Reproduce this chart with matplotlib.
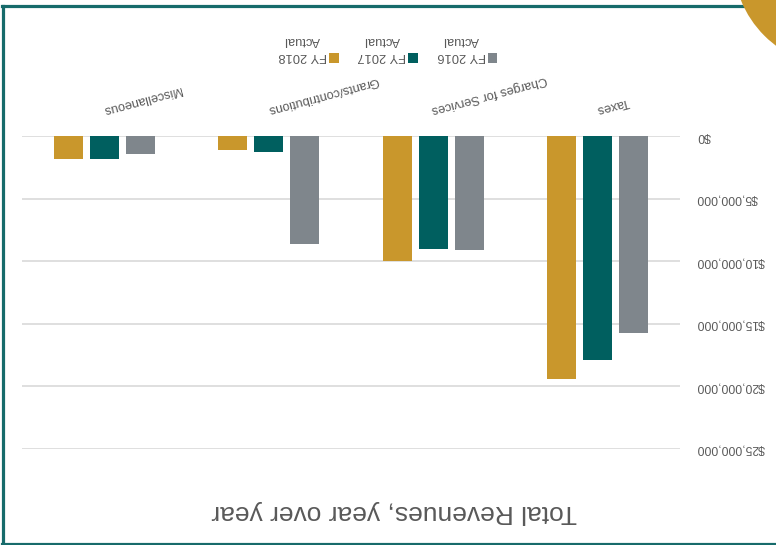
import matplotlib
matplotlib.use("Agg")
import matplotlib.pyplot as plt
import numpy as np
from matplotlib.patches import Rectangle, Circle
from matplotlib.lines import Line2D

# data (the whole picture is turned upside down)
categories = ["Taxes", "Charges for Services", "Grants/contributions", "Miscellaneous"]
fy2016 = [15.7e6, 9.1e6, 8.6e6, 1.4e6]
fy2017 = [17.9e6, 9.0e6, 1.25e6, 1.8e6]
fy2018 = [19.4e6, 9.95e6, 1.1e6, 1.8e6]
series_labels = ["FY 2016\nActual", "FY 2017\nActual", "FY 2018\nActual"]
ytick_values = [0, 5e6, 10e6, 15e6, 20e6, 25e6]
ytick_labels = ["$0", "$5,000,000", "$10,000,000", "$15,000,000", "$20,000,000", "$25,000,000"]
title = "Total Revenues, year over year"

colors = ["#7F868C", "#005F5F", "#C9972C"]
txt_color = "#595959"
sans = ["Liberation Sans", "DejaVu Sans"]

W, H = 776, 545
fig = plt.figure(figsize=(W / 100, H / 100), dpi=100)
fig.patch.set_facecolor("white")

# axes placed in pixel terms of the picture (y measured from top)
ax_left, ax_right, ax_top, ax_bot = 22, 680, 136, 449
ax = fig.add_axes([ax_left / W, (H - ax_bot) / H, (ax_right - ax_left) / W, (ax_bot - ax_top) / H])

x = np.arange(len(categories))
width = 0.176
step = 0.218
for i, vals in enumerate([fy2016, fy2017, fy2018]):
    ax.bar(x + (i - 1) * step, vals, width, color=colors[i], zorder=3)

ax.set_xlim(3.5, -0.5)
ax.set_ylim(25e6, 0)
ax.set_axisbelow(True)
ax.grid(axis="y", color="#D9D9D9", lw=1.2)
ax.grid(axis="x", visible=False)
for s in ax.spines.values():
    s.set_visible(False)

ax.yaxis.tick_right()
ax.set_yticks(ytick_values, ytick_labels, rotation=180, ha="left", va="center",
              family=sans, fontsize=8.8, color=txt_color)
ax.tick_params(axis="y", length=0, pad=12)

ax.xaxis.tick_top()
ax.set_xticks(x, categories, rotation=195, rotation_mode="anchor", ha="right", va="top",
              family=sans, fontsize=9.2, color=txt_color)
ax.tick_params(axis="x", length=0, pad=15)

# legend drawn by hand, upside down like the rest
for i, lab in enumerate(series_labels):
    cx = 492.5 - 79.5 * i
    sq = 10
    fig.add_artist(Rectangle(((cx - sq / 2) / W, (H - 58 - sq / 2) / H), sq / W, sq / H,
                             transform=fig.transFigure, color=colors[i], lw=0))
    fig.text((cx - 31) / W, (H - 48) / H, lab, rotation=180, ha="center", va="center",
             multialignment="center", linespacing=1.55, family=sans, fontsize=9.3,
             color=txt_color)

fig.text(394 / W, (H - 512) / H, title, rotation=180, ha="center", va="center",
         family=sans, fontsize=19, color=txt_color)

# teal frame
border = "#176B6B"
fig.add_artist(Line2D([3.5 / W, 3.5 / W], [(H - 6) / H, (H - 544) / H], transform=fig.transFigure,
                      color=border, lw=2.3))
fig.add_artist(Line2D([2 / W, 1.0], [(H - 6) / H, (H - 6) / H], transform=fig.transFigure,
                      color=border, lw=2.3))
fig.add_artist(Line2D([2 / W, 1.0], [(H - 544) / H, (H - 544) / H], transform=fig.transFigure,
                      color=border, lw=2.3))

# gold disc in the corner
fig.add_artist(Circle((8.40, 5.85), 1.07, transform=fig.dpi_scale_trans, color="#C9972C", lw=0,
                      zorder=5))

fig.savefig("out.png", dpi=100)
